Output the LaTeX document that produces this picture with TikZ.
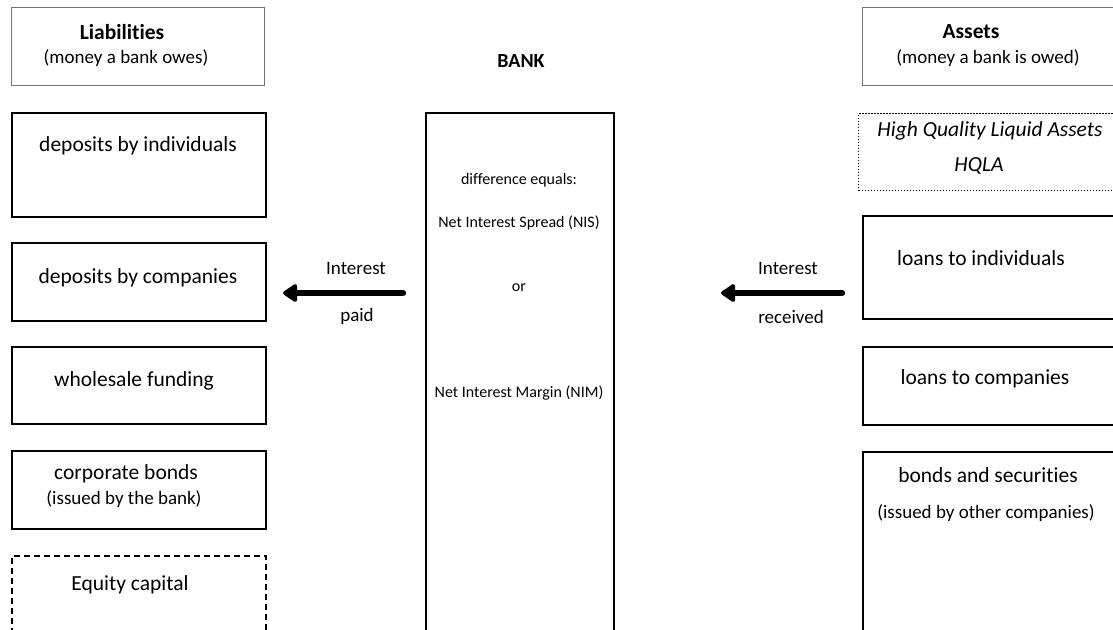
\documentclass[tikz,border=0pt]{standalone}
\usepackage{fontspec}
\setmainfont{Carlito}[Ligatures={NoCommon}]
\usetikzlibrary{arrows.meta,calc}
\begin{document}
\begin{tikzpicture}[x=1pt,y=-1pt,
  hdrbox/.style={draw=black!55, line width=1.1pt, inner sep=0pt, anchor=north west},
  solidbox/.style={draw=black, line width=2pt, inner sep=0pt, anchor=north west},
  dashbox/.style={draw=black, line width=1.6pt, dash pattern=on 6pt off 4pt, inner sep=0pt, anchor=north west},
  dotbox/.style={draw=black, line width=1.3pt, dash pattern=on 1.2pt off 1.8pt, inner sep=0pt, anchor=north west},
  maintxt/.style={inner sep=0pt, font=\fontsize{21.5}{24}\selectfont},
  subtxt/.style={inner sep=0pt, font=\fontsize{19}{22}\selectfont},
  hdrtxt/.style={inner sep=0pt, font=\fontsize{21.5}{24}\selectfont\bfseries},
  ctrtxt/.style={inner sep=0pt, font=\fontsize{16}{20}\selectfont},
  lbltxt/.style={inner sep=0pt, font=\fontsize{19}{22}\selectfont},
  flowarrow/.style={line width=6.5pt, line cap=round, -{Triangle[length=16pt,width=20pt,round]}}
]
\clip (0,0) rectangle (1113,629);
\fill[white] (0,0) rectangle (1113,629);

% left column
\node[hdrbox, minimum width=253pt, minimum height=78pt] (lhdr) at (11,7) {};
\node[hdrtxt] (lhdrA) at (122,32) {Liabilities};
\node[subtxt] (lhdrB) at (126,58) {(money a bank owes)};

\node[solidbox, minimum width=254pt, minimum height=104pt] (dind) at (11,112) {};
\node[maintxt] (dindT) at (138,146) {deposits by individuals};

\node[solidbox, minimum width=254pt, minimum height=78pt] (dcomp) at (11,242) {};
\node[maintxt] (dcompT) at (138,278) {deposits by companies};

\node[solidbox, minimum width=254pt, minimum height=77pt] (wf) at (11,346) {};
\node[maintxt] (wfT) at (134,381) {wholesale funding};

\node[solidbox, minimum width=254pt, minimum height=78pt] (cb) at (11,450) {};
\node[maintxt] (cbT) at (126,474) {corporate bonds};
\node[subtxt] (cbS) at (124,499) {(issued by the bank)};

\node[dashbox, minimum width=254pt, minimum height=110pt] (eq) at (11,555) {};
\node[maintxt] (eqT) at (130,585) {Equity capital};

% centre
\node[hdrtxt, font=\fontsize{20}{24}\selectfont\bfseries] (bankT) at (521,61) {BANK};
\node[solidbox, minimum width=188pt, minimum height=560pt] (bank) at (425,112) {};
\node[ctrtxt] (c1) at (519,180) {difference equals:};
\node[ctrtxt] (c2) at (519,223) {Net Interest Spread (NIS)};
\node[ctrtxt] (c3) at (519,288) {or};
\node[ctrtxt] (c4) at (519,393) {Net Interest Margin (NIM)};

% right column
\node[hdrbox, minimum width=262pt, minimum height=78pt] (rhdr) at (862,7) {};
\node[hdrtxt] (rhdrA) at (971,32) {Assets};
\node[subtxt] (rhdrB) at (988,58) {(money a bank is owed)};

\node[dotbox, minimum width=270pt, minimum height=77pt] (hqla) at (858,113) {};
\node[maintxt, font=\fontsize{21.5}{24}\selectfont\itshape] (hqlaA) at (990,131) {High Quality Liquid Assets};
\node[maintxt, font=\fontsize{21.5}{24}\selectfont\itshape] (hqlaB) at (979,166) {HQLA};

\node[solidbox, minimum width=270pt, minimum height=103pt] (li) at (862,215) {};
\node[maintxt] (liT) at (981,258) {loans to individuals};

\node[solidbox, minimum width=270pt, minimum height=78pt] (lc) at (862,346) {};
\node[maintxt] (lcT) at (985,379) {loans to companies};

\node[solidbox, minimum width=270pt, minimum height=220pt] (bs) at (862,451) {};
\node[maintxt] (bsT) at (988,475) {bonds and securities};
\node[subtxt] (bsS) at (986,513) {(issued by other companies)};

% arrows
\coordinate (paidTail) at (403,293);
\coordinate (paidTip) at (283,293);
\coordinate (recTail) at (842,293);
\coordinate (recTip) at (721,293);
\draw[flowarrow] (paidTail) -- (paidTip);
\draw[flowarrow] (recTail) -- (recTip);
\node[lbltxt] (pA) at (356,268) {Interest};
\node[lbltxt] (pB) at (357,316) {paid};
\node[lbltxt] (rA) at (788,268) {Interest};
\node[lbltxt] (rB) at (791,317) {received};
\end{tikzpicture}
\end{document}
